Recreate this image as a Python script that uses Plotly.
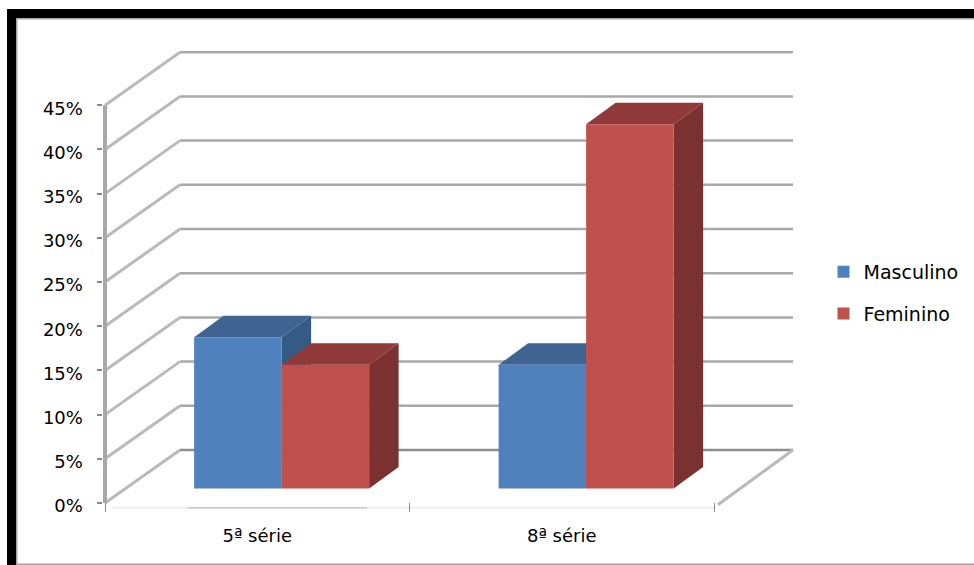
import plotly.graph_objects as go

# Chart data
categories = ["5ª série", "8ª série"]
masculino = [17.1, 14.0]
feminino = [14.0, 41.2]
value_ticks = [0, 5, 10, 15, 20, 25, 30, 35, 40, 45]
value_tick_labels = [f"{v}%" for v in value_ticks]

BLUE, BLUE_TOP, BLUE_SIDE = "#4F81BD", "#3F6492", "#365A86"
RED, RED_TOP, RED_SIDE = "#C0504D", "#8F3A38", "#7B3130"
GRID = "#a8a8a8"
GRID_DARK = "#8e8e8e"
DIAGONAL = "#bababa"
FONT = "DejaVu Sans"

W, H = 974, 565
PX_PER_CAT = 304.5
PX_PER_PCT = 8.84
X0_PX, Y0_PX = 105.0, 503.0

# Depth of the floor and of each box, in axis units
WALL_DX, WALL_DY = 75 / PX_PER_CAT, 53 / PX_PER_PCT
BOX_DX, BOX_DY = 29.5 / PX_PER_CAT, 21.5 / PX_PER_PCT
BOX_SHIFT = 0.08
BOX_LIFT = 1.64
BOX_W = 87.5 / PX_PER_CAT
WALL_END = 2 + 79 / PX_PER_CAT


def line(x0, y0, x1, y1, color, width):
    return dict(type="line", xref="x", yref="y", x0=x0, y0=y0, x1=x1, y1=y1,
                layer="below", line=dict(color=color, width=width))


def poly(points, color):
    path = "M " + " L ".join(f"{x:.4f} {y:.4f}" for x, y in points) + " Z"
    return dict(type="path", xref="x", yref="y", path=path, layer="below",
                fillcolor=color, line=dict(width=0))


def box_faces(left, value, top_color, side_color):
    bottom, top = BOX_LIFT, BOX_LIFT + value
    right = left + BOX_W
    side = poly([(right, bottom), (right + BOX_DX, bottom + BOX_DY),
                 (right + BOX_DX, top + BOX_DY), (right, top)], side_color)
    cap = poly([(left, top), (right, top), (right + BOX_DX, top + BOX_DY),
                (left + BOX_DX, top + BOX_DY)], top_color)
    return [side, cap]


shapes = []

# Back wall gridlines and the receding lines on the side wall
for v in value_ticks:
    shapes.append(line(WALL_DX, v + WALL_DY, WALL_END, v + WALL_DY,
                       GRID_DARK if v == 0 else GRID, 2.5))
    shapes.append(line(0, v, WALL_DX, v + WALL_DY, DIAGONAL, 3))

# Value axis and floor edges
shapes.append(line(0, 0, 0, 45, "#a8a8a8", 4))
shapes.append(line(2.013, -0.2, 2.013 + WALL_DX, WALL_DY, DIAGONAL, 3))
shapes.append(line(0.02, -0.55, 2, -0.55, "#eeeeee", 2))
shapes.append(line(0.27, -0.55, 0.86, -0.55, "#b4b4b4", 1))

# Side and top faces of the boxes, back to front within each group
for i in range(len(categories)):
    centre = i + 0.5 + BOX_SHIFT
    shapes += box_faces(centre - BOX_W, masculino[i], BLUE_TOP, BLUE_SIDE)
    shapes += box_faces(centre, feminino[i], RED_TOP, RED_SIDE)

# Frame around the chart
def frame(x0, y0, x1, y1, color):
    return dict(type="rect", xref="paper", yref="paper", layer="above",
                x0=x0 / W, x1=x1 / W, y0=1 - y0 / H, y1=1 - y1 / H,
                fillcolor=color, line=dict(width=0))


shapes += [
    frame(7, 9, W, 18, "#000000"),
    frame(7, 9, 16, H, "#000000"),
    frame(16, 18, W, 19.5, "#a6a6a6"),
    frame(16, 18, 17.5, H, "#a6a6a6"),
    frame(16, 563.5, W, 565, "#a6a6a6"),
]

group_x = [i + 0.5 + BOX_SHIFT for i in range(len(categories))]
fig = go.Figure()
fig.add_bar(name="Masculino", x=group_x, y=masculino, base=[BOX_LIFT] * 2,
            marker=dict(color=BLUE, line=dict(width=0)), legendgroup="m")
fig.add_bar(name="Feminino", x=group_x, y=feminino, base=[BOX_LIFT] * 2,
            marker=dict(color=RED, line=dict(width=0)), legendgroup="f")

left_px, right_px, top_px, bottom_px = 102.5, 800.0, 45.0, 512.0
fig.update_layout(
    width=W, height=H, autosize=False,
    margin=dict(l=0, r=0, t=0, b=0, pad=0, autoexpand=False),
    paper_bgcolor="white", plot_bgcolor="white",
    barmode="group", bargap=1 - 2 * BOX_W, bargroupgap=0,
    font=dict(family=FONT, size=18, color="#000000"),
    shapes=shapes,
    legend=dict(x=823.5 / W, y=1 - 253 / H, xanchor="left", yanchor="top",
                bgcolor="rgba(0,0,0,0)", font=dict(size=19, family=FONT),
                traceorder="grouped", tracegroupgap=14, itemclick=False),
    xaxis=dict(
        domain=[left_px / W, right_px / W],
        range=[(left_px - X0_PX) / PX_PER_CAT, (right_px - X0_PX) / PX_PER_CAT],
        showgrid=False, zeroline=False, showline=False,
        tickmode="array", tickvals=[0.5, 1.5], ticktext=categories,
        ticks="", ticklabelstandoff=11,
        minor=dict(tickmode="array", tickvals=[0, 1, 2], ticks="inside",
                   ticklen=9, tickwidth=1, tickcolor="#8a8a8a", showgrid=False),
        tickfont=dict(size=18, family=FONT),
    ),
    yaxis=dict(
        domain=[1 - bottom_px / H, 1 - top_px / H],
        range=[(Y0_PX - bottom_px) / PX_PER_PCT, (Y0_PX - top_px) / PX_PER_PCT],
        showgrid=False, zeroline=False, showline=False,
        tickmode="array", tickvals=value_ticks, ticktext=value_tick_labels,
        ticks="outside", ticklen=5, tickwidth=1.5, tickcolor="#8a8a8a",
        ticklabelstandoff=10, ticklabelshift=3,
        tickfont=dict(size=18, family=FONT),
    ),
)

fig.write_html("out.html")
